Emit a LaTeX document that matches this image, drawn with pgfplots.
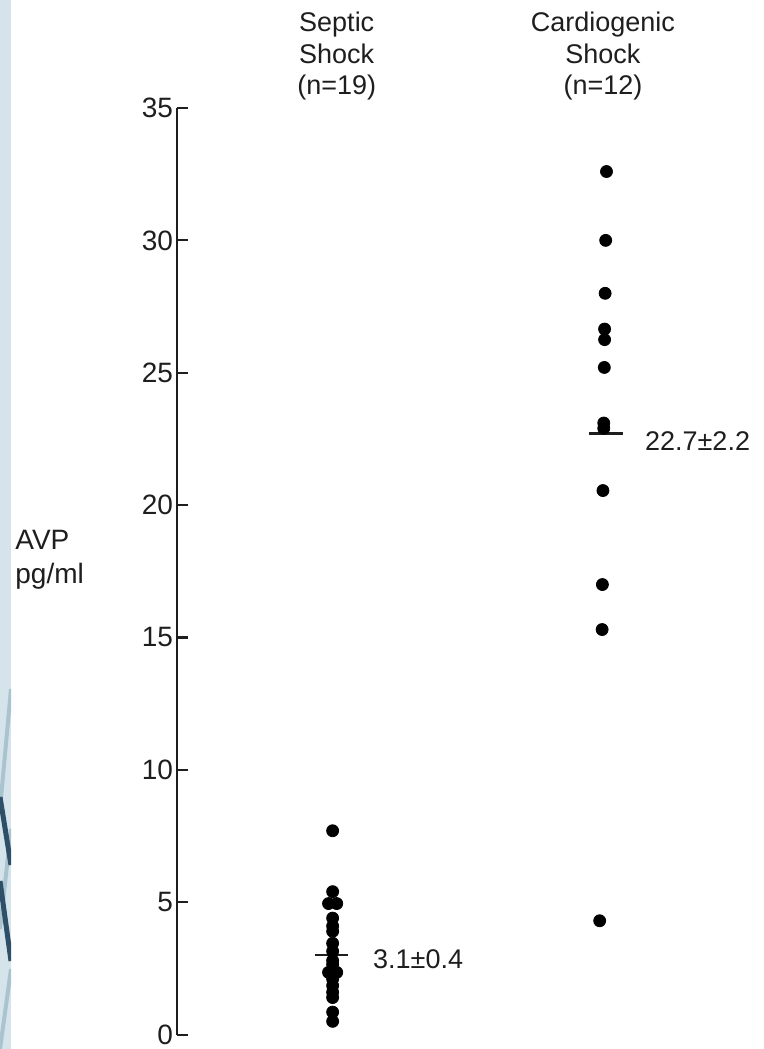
\documentclass[border=0pt]{standalone}
\usepackage{pgfplots}
\pgfplotsset{compat=1.18}
\usepackage{fontspec}
\setmainfont{Liberation Sans}
\definecolor{strip}{RGB}{212,228,234}
\definecolor{stripmid}{RGB}{170,196,207}
\definecolor{navy}{RGB}{45,80,104}
\definecolor{ink}{RGB}{30,30,30}
\begin{document}
\begin{tikzpicture}
\useasboundingbox (0,0) rectangle (382pt,524.5pt);
% decorative left strip
\fill[strip] (0,0) rectangle (5.5pt,524.5pt);
\begin{scope}
\clip (0,0) rectangle (5.5pt,524.5pt);
\draw[stripmid, line width=2pt] (5.5pt,180pt) -- (0,120pt);
\draw[stripmid, line width=2pt] (5.5pt,110pt) -- (0,60pt);
\draw[stripmid, line width=2pt] (5.5pt,40pt) -- (0,0pt);
\draw[navy, line width=2.5pt] (0,126pt) -- (5.5pt,92pt);
\draw[navy, line width=2.5pt] (0,84pt) -- (5.5pt,44pt);
\end{scope}
\begin{axis}[
  at={(88.5pt,7.2pt)}, anchor=south west, scale only axis,
  width=282.6pt, height=463.3pt,
  xmin=0.43, xmax=2.5, ymin=0, ymax=35,
  axis x line=none, axis y line=left,
  y axis line style={-, line width=1.1pt, ink},
  ytick={0,5,...,35}, tick align=inside, major tick length=5.5pt,
  ytick style={line width=1.1pt, ink},
  yticklabel style={font=\fontsize{14}{14}\selectfont, text=ink, xshift=1.5pt},
  /pgf/number format/assume math mode=true,
  clip=false,
]
% Septic shock (n=19)
\addplot[only marks, mark=*, mark size=3pt, black] coordinates {
(1,7.7) (1,5.4) (0.985,4.95) (1.015,4.95) (1,4.4) (1,4.1) (1,3.9)
(1,3.45) (1,3.15) (1,2.8) (1,2.65) (0.985,2.35) (1.015,2.35) (1,2.1)
(1,1.85) (1,1.6) (1,1.4) (1,0.85) (1,0.5)
};
% Cardiogenic shock (n=12)
\addplot[only marks, mark=*, mark size=3pt, black] coordinates {
(2.003,32.6) (2.0,30.0) (1.998,28.0) (1.996,26.65) (1.996,26.25) (1.995,25.2)
(1.993,23.1) (1.993,22.9) (1.99,20.55) (1.988,17.0) (1.987,15.3) (1.978,4.3)
};
% means
\addplot[ink, line width=1.2pt] coordinates {(0.934,3.0) (1.055,3.0)};
\addplot[ink, line width=1.2pt] coordinates {(1.938,22.7) (2.062,22.7)};
\node[anchor=west, inner sep=0pt, text=ink, font=\fontsize{13.5}{13.5}\selectfont] at (axis cs:1.147,2.83) {3.1±0.4};
\node[anchor=west, inner sep=0pt, text=ink, font=\fontsize{13.5}{13.5}\selectfont] at (axis cs:2.143,22.42) {22.7±2.2};
\node[align=center, text=ink, font=\fontsize{13.5}{15.75}\selectfont] at (axis cs:1.015,36.96) {Septic\\Shock\\(n=19)};
\node[align=center, text=ink, font=\fontsize{13.5}{15.75}\selectfont] at (axis cs:1.99,36.96) {Cardiogenic\\Shock\\(n=12)};
\end{axis}
\node[anchor=west, align=left, inner sep=0pt, text=ink, font=\fontsize{14}{17}\selectfont] at (7.5pt,244.5pt) {AVP\\pg/ml};
\end{tikzpicture}
\end{document}
